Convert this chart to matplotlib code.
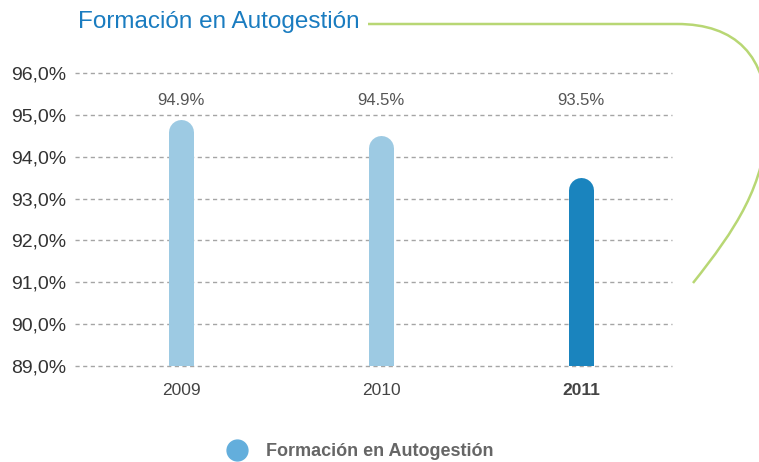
import matplotlib
matplotlib.use('Agg')
import matplotlib.pyplot as plt
from matplotlib.path import Path
from matplotlib.patches import PathPatch
from matplotlib.lines import Line2D
import matplotlib.transforms as mtransforms

years = ['2009', '2010', '2011']
values = [94.9, 94.5, 93.5]
value_labels = ['94.9%', '94.5%', '93.5%']
y_ticks = [89, 90, 91, 92, 93, 94, 95, 96]
y_tick_labels = ['89,0%', '90,0%', '91,0%', '92,0%', '93,0%', '94,0%', '95,0%', '96,0%']
series_name = 'Formación en Autogestión'

light_blue = '#9dcae3'
dark_blue = '#1a84be'
grey_text = '#333333'

plt.rcParams['font.family'] = ['Liberation Sans', 'DejaVu Sans']

W, H = 759, 462
fig = plt.figure(figsize=(W / 100, H / 100), dpi=100)
ax = fig.add_axes([75 / W, 1 - 366 / H, (672 - 75) / W, (366 - 73) / H])

ymin, ymax = 89, 96
ax.set_ylim(ymin, ymax)
ax.set_xlim(-0.53, 2.455)

# bar with rounded top: line with round cap, cap top lands on the value
bar_px = 25
px_per_unit = (366 - 73) / (ymax - ymin)
r = bar_px / 2 / px_per_unit
for i, v in enumerate(values):
    c = dark_blue if i == len(values) - 1 else light_blue
    ax.plot([i, i], [ymin - 1, v - r], color=c, lw=bar_px * 72 / 100,
            solid_capstyle='round', zorder=3)
    ax.text(i, 0.905, value_labels[i], transform=ax.get_xaxis_transform(),
            ha='center', va='center', fontsize=12, color='#555555')

for t in y_ticks:
    ax.axhline(t, color='#a5a5a5', lw=1, ls=(0, (3, 2.5)), zorder=1, clip_on=False)

ax.set_yticks(y_ticks)
ax.set_yticklabels(y_tick_labels, fontsize=14, color=grey_text)
ax.set_xticks(range(len(years)))
ax.set_xticklabels(years, fontsize=12.5, color='#444444')
ax.get_xticklabels()[-1].set_fontweight('bold')
ax.tick_params(length=0, axis='y', pad=6)
ax.tick_params(length=0, axis='x', pad=12)
for s in ax.spines.values():
    s.set_visible(False)

# title and decorative green line, in pixel coords
px = mtransforms.Affine2D().scale(1 / W, -1 / H).translate(0, 1) + fig.transFigure
fig.text(78, 22, series_name, transform=px, fontsize=17.5, color='#1a7cc0',
         ha='left', va='center')
verts = [(368, 24), (677, 24),
         (735, 24), (768, 55), (767, 120),
         (766, 185), (735, 230), (693, 283)]
codes = [Path.MOVETO, Path.LINETO,
         Path.CURVE4, Path.CURVE4, Path.CURVE4,
         Path.CURVE4, Path.CURVE4, Path.CURVE4]
fig.add_artist(PathPatch(Path(verts, codes), transform=px, fill=False,
                         edgecolor='#b8d774', lw=1.8))

# legend
fig.add_artist(Line2D([237], [450], transform=px, marker='o', markersize=15,
                      color='#63aedc', lw=0))
fig.text(266, 451, series_name, transform=px, fontsize=13, color='#666666',
         fontweight='bold', ha='left', va='center')

fig.savefig('out.png', dpi=100)
